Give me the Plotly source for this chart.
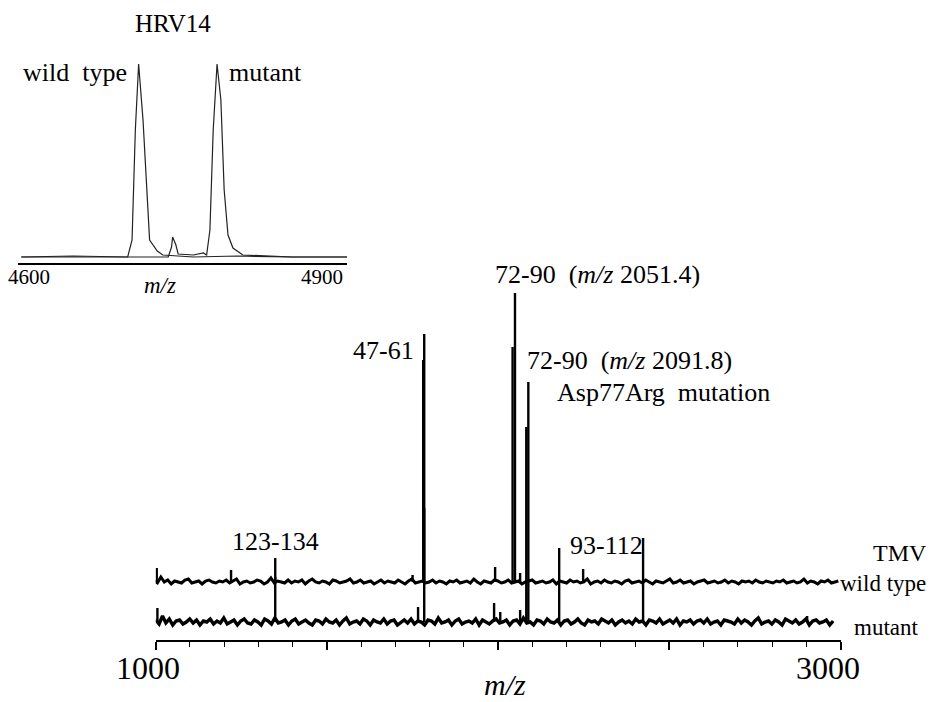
import numpy as np
import plotly.graph_objects as go

W, H = 940, 702

# ---------------- data: TMV main spectrum ----------------
WT_PEAK_MZ = [1003, 1220, 1349, 1750, 1781, 1784, 1991, 2042, 2049, 2064, 2178, 2248, 2423]
WT_PEAK_H = [14, 12, 24, 7, 222, 248, 15, 235, 289, 9, 34, 13, 44]

MUT_PEAK_MZ = [1005, 1349, 1766, 1784, 1988, 2006, 2064, 2082, 2088, 2178, 2423, 2902]
MUT_PEAK_H = [14, 45, 15, 114, 19, 10, 12, 195, 240, 42, 42, 6]

WT_NOISE = [1, -1, 5, 0, 2, -2, 1, 0, -1, 2, 3, -1, 0, 1, -2, 1, 2, 0, -1, 1,
            0, 2, -1, 1, 3, -2, 0, 1, -1, 0, 2, 1, -2, 0, 4, -1, 1, 0, -1, 2,
            -1, 1, 0, 2, -2, 1, 3, 0, -1, 1, 0, -2, 2, 1, -1, 0, 1, 3, -1, 0,
            2, -1, 0, 1, -2, 0, 2, -1, 1, 0, -1, 2, 0, -2, 1, 3, -1, 0, 1, -1,
            0, 2, -1, 1, 0, -2, 1, 0, 2, -1, 0, 1, -1, 3, 0, -2, 1, 0, -1, 2,
            1, -1, 0, 2, -1, 0, 1, -2, 0, 1, 2, -1, 0, 1, -1, 0, 2, -2, 1, 0,
            -1, 2, 0, 1, -1, 0, 3, -2, 0, 1, -1, 2, 0, -1, 1, 0, -2, 1, 2, -1,
            0, 1, -1, 2, 0, -2, 1, 0, -1, 1, 3, -1, 0, 2, -1, 0, 1, -2, 0, 1,
            2, -1, 0, 1, -1, 0, 2, -1, 1, 0, -2, 1, 0, 1, -1, 2, 0, -1, 1, 0,
            -1, 1, 0, 2, -1, 0, 1, -1, 0, 3, -1, 1, 0, -2, 1, 0, 2, -1, 0, 1]
MUT_NOISE = [2, -2, 6, -1, 3, -3, 1, 2, -2, 0, 3, -1, 2, -3, 1, 0, 3, -2, 1, -1,
             4, -2, 0, 2, -3, 1, 3, -1, -2, 2, 0, -3, 3, 1, -2, 4, -1, 0, 2, -3,
             1, 3, -2, 0, 2, -1, -3, 2, 1, -2, 3, 0, -1, 2, -3, 1, 4, -2, 0, 1,
             -2, 3, 1, -3, 2, 0, -1, 3, -2, 1, 2, -3, 0, 2, -1, 3, -2, 1, 0, -3,
             2, 1, -2, 4, -1, 0, 2, -3, 1, 3, -2, 0, 1, -1, 3, -3, 2, 0, -2, 1,
             3, -1, 0, 2, -3, 1, 2, -2, 4, -1, 0, -3, 2, 1, -2, 3, 0, -1, 2, -3,
             1, 2, -2, 0, 3, -1, -3, 2, 0, 1, -2, 3, 1, -1, 2, -3, 0, 2, -1, 1,
             -2, 3, 0, 1, -3, 2, 1, -1, 3, -2, 0, 2, -1, 3, -3, 1, 0, 2, -2, 1,
             2, -1, 3, -2, 0, 1, -3, 2, 1, 0, -2, 3, -1, 2, 0, -3, 1, 4, -2, 0,
             1, -2, 2, 0, -3, 3, 1, -1, 2, -2, 0, 3, -3, 1, 2, -1, 0, 2, -3, 1]
WT_SPAN = [995, 2993]
MUT_SPAN = [1000, 2978]

MAIN_TICKS = [1000, 1500, 2000, 2500, 3000]
MAIN_TICK_LABELS = ["1000", "3000"]

# ---------------- data: HRV14 inset ----------------
HRV_WT_MZ = [4603, 4650, 4700, 4704, 4707, 4710, 4714, 4718, 4720, 4727, 4732, 4760, 4800, 4850, 4900]
HRV_WT_I = [0, 1, 0, 17, 127, 193, 137, 47, 17, 6, 2, 0, 1, 0, 0]
HRV_MUT_MZ = [4603, 4660, 4737, 4740, 4741, 4744, 4746, 4760, 4769, 4772, 4775, 4778, 4781.5, 4785, 4788,
              4791.5, 4796, 4805, 4850, 4900]
HRV_MUT_I = [0, 0, 0, 10, 20, 12, 3, 2, 4, 2, 27, 127, 193, 157, 67, 22, 9, 2, 0, 0]
HRV_TICK_LABELS = ["4600", "4900"]

# ---------------- style constants ----------------
WT_OFFSET = 58
MUT_OFFSET = 18
FONT = "Liberation Serif"
SHIFT = 8  # page body margin offset of the rendered figure


def px(x):
    return (x - SHIFT) / W


def py(y):
    return 1 - (y - SHIFT) / H


def sticks(mz, h, off):
    xs, ys = [], []
    for m, v in zip(mz, h):
        xs += [m, m, None]
        ys += [off, off + v, None]
    return xs, ys


fig = go.Figure()

wt_x = np.linspace(WT_SPAN[0], WT_SPAN[1], len(WT_NOISE))
mut_x = np.linspace(MUT_SPAN[0], MUT_SPAN[1], len(MUT_NOISE))
fig.add_trace(go.Scatter(x=wt_x, y=[WT_OFFSET + v for v in WT_NOISE], mode="lines",
                         line=dict(color="black", width=3), xaxis="x", yaxis="y",
                         hoverinfo="skip", showlegend=False))
fig.add_trace(go.Scatter(x=mut_x, y=[MUT_OFFSET + v for v in MUT_NOISE], mode="lines",
                         line=dict(color="black", width=3.4), xaxis="x", yaxis="y",
                         hoverinfo="skip", showlegend=False))
sx, sy = sticks(WT_PEAK_MZ, WT_PEAK_H, WT_OFFSET)
fig.add_trace(go.Scatter(x=sx, y=sy, mode="lines", line=dict(color="black", width=2.4),
                         xaxis="x", yaxis="y", showlegend=False, name="wild type"))
sx, sy = sticks(MUT_PEAK_MZ, MUT_PEAK_H, MUT_OFFSET)
fig.add_trace(go.Scatter(x=sx, y=sy, mode="lines", line=dict(color="black", width=2.4),
                         xaxis="x", yaxis="y", showlegend=False, name="mutant"))

fig.add_trace(go.Scatter(x=HRV_WT_MZ, y=HRV_WT_I, mode="lines",
                         line=dict(color="#222", width=1.2), xaxis="x2", yaxis="y2", showlegend=False))
fig.add_trace(go.Scatter(x=HRV_MUT_MZ, y=HRV_MUT_I, mode="lines",
                         line=dict(color="#222", width=1.2), xaxis="x2", yaxis="y2", showlegend=False))

fig.update_layout(
    width=W, height=H, margin=dict(l=0, r=0, t=0, b=0, pad=0, autoexpand=False),
    paper_bgcolor="white", plot_bgcolor="white", showlegend=False,
    font=dict(family=FONT, color="black"),
    xaxis=dict(domain=[px(155.7), px(840.7)], range=[1000, 3000], anchor="y", automargin=False,
               showline=True, linecolor="black", linewidth=1.5, showgrid=False, zeroline=False,
               ticks="outside", ticklen=8, tickwidth=1.5, tickcolor="black",
               tickmode="array", tickvals=MAIN_TICKS, showticklabels=False,
               minor=dict(ticks="outside", ticklen=5, tickwidth=1, tickcolor="black",
                          tickmode="linear", tick0=1000, dtick=100, showgrid=False)),
    yaxis=dict(domain=[py(640), py(280)], range=[0, 360], visible=False, automargin=False),
    xaxis2=dict(domain=[px(18), px(347)], range=[4600, 4900], anchor="y2", automargin=False,
                showline=True, linecolor="black", linewidth=2, showgrid=False, zeroline=False,
                ticks="", showticklabels=False),
    yaxis2=dict(domain=[py(263), py(60)], range=[-6, 197], visible=False, automargin=False),
)

ann = [
    # inset
    ("HRV14", 173, 23, "center", 25),
    ("wild  type", 75, 73, "center", 26),
    ("mutant", 265, 73, "center", 26),
    (HRV_TICK_LABELS[0], 29, 277, "center", 21),
    (HRV_TICK_LABELS[1], 322, 277, "center", 21),
    ("<i>m/z</i>", 160, 285, "center", 23),
    # main
    (MAIN_TICK_LABELS[0], 148, 668, "center", 32),
    (MAIN_TICK_LABELS[1], 828, 668, "center", 32),
    ("<i>m/z</i>", 505, 684, "center", 30),
    ("72-90  (<i>m/z</i> 2051.4)", 493, 274, "left", 26),
    ("47-61", 416, 350, "right", 26),
    ("72-90  (<i>m/z</i> 2091.8)", 525, 360, "left", 26),
    ("Asp77Arg  mutation", 555, 392, "left", 26),
    ("123-134", 275, 541, "center", 26),
    ("93-112", 606, 545, "center", 26),
    ("TMV", 900, 553, "center", 24),
    ("wild type", 928, 583, "right", 23),
    ("mutant", 886, 627, "center", 23),
]
for text, x, y, align, size in ann:
    fig.add_annotation(text=text, x=px(x), y=py(y), xref="paper", yref="paper",
                       xanchor=align, yanchor="middle", showarrow=False,
                       font=dict(family=FONT, size=size, color="black"))

fig.write_html("out.html")
